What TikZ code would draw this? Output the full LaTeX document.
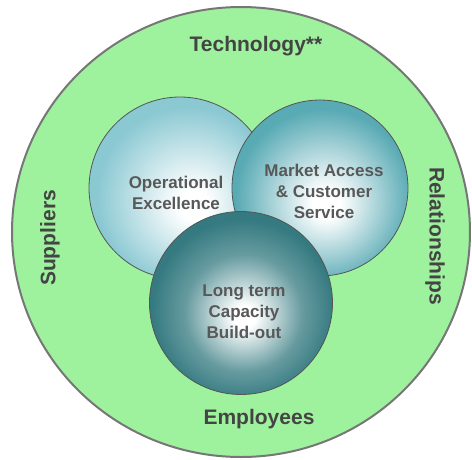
\documentclass[tikz,border=0pt]{standalone}
\usepackage{fontspec}
\setmainfont{Liberation Sans}
\usetikzlibrary{positioning,calc}

\definecolor{ringgreen}{RGB}{158,242,158}
\definecolor{ringline}{RGB}{118,118,118}
\definecolor{outertext}{RGB}{68,68,68}
\definecolor{innertext}{RGB}{88,88,88}
\definecolor{balledge}{RGB}{85,85,85}
\definecolor{tealA}{RGB}{138,200,210}
\definecolor{tealB}{RGB}{88,170,180}
\definecolor{tealC}{RGB}{52,122,128}

% ball shadings, highlight moved off centre
\pgfdeclareradialshading{opexball}{\pgfpoint{4bp}{-5bp}}{%
  color(0bp)=(white); color(4bp)=(white); color(25bp)=(tealA); color(50bp)=(tealA)}
\pgfdeclareradialshading{marketball}{\pgfpoint{2bp}{-5bp}}{%
  color(0bp)=(white); color(4bp)=(white); color(25bp)=(tealB); color(50bp)=(tealB)}
\pgfdeclareradialshading{capacityball}{\pgfpoint{1bp}{-4bp}}{%
  color(0bp)=(white); color(3bp)=(white); color(16bp)=(tealC!75!white); color(25bp)=(tealC); color(50bp)=(tealC)}

\begin{document}
\begin{tikzpicture}[
  x=1pt, y=-1pt,
  ball/.style = {
    circle, draw=balledge, line width=0.8pt,
    inner sep=0pt
  },
  balltext/.style = {
    align=center, text=innertext,
    font=\fontsize{17}{21}\selectfont\bfseries
  },
  ringtext/.style = {
    text=outertext,
    font=\fontsize{21}{24}\selectfont\bfseries
  }
]

\useasboundingbox (0,0) rectangle (472,459);

% ---- outer ring ----
\draw[fill=ringgreen, draw=ringline, line width=2pt] (241,232) ellipse (229 and 225);

% ---- balls ----
\node[ball, shading=opexball, minimum size=182pt] (opex) at (180,188) {};
\node[ball, shading=marketball, minimum size=176pt] (market) at (320,188) {};
\node[ball, shading=capacityball, minimum size=183pt] (capacity) at (241,303) {};

% ---- ball texts ----
\node[balltext] (opextxt) at ($(opex)+(-4,5)$) {Operational\\Excellence};
\node[balltext] (markettxt) at ($(market)+(4,3)$) {Market Access\\\& Customer\\Service};
\node[balltext] (capacitytxt) at ($(capacity)+(3,9)$) {Long term\\Capacity\\Build-out};

% ---- ring texts ----
\node[ringtext] (tech) at (256,46) {Technology**};
\node[ringtext] (staff) at (259,419) {Employees};
\node[ringtext, rotate=90] (supp) at (50,238) {Suppliers};
\node[ringtext, rotate=-90] (rel) at (435,236) {Relationships};

\end{tikzpicture}
\end{document}
